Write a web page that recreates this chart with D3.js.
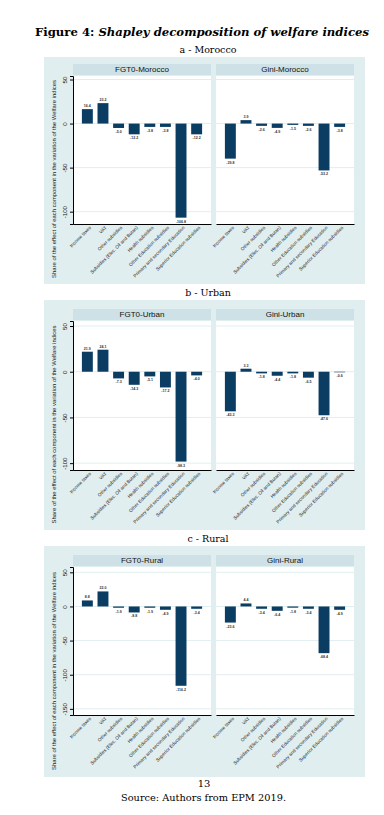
<!DOCTYPE html>
<html>
<head>
<meta charset="utf-8">
<script src="https://cdn.jsdelivr.net/npm/d3@7"></script>
<style>
  body { margin: 0; background: #fff; }
  svg { display: block; }
</style>
</head>
<body>
<svg id="page"></svg>
<script>
// data
var categories = ["Income taxes", "VAT", "Other subsidies", "Subsidies (Elec. Oil and Butan)",
    "Health subsidies", "Other Education subsidies", "Primary and secondary Education",
    "Superior Education subsidies"];

var fgt0Morocco = [16.4, 23.2, -5.0, -12.2, -3.8, -3.8, -106.8, -12.2];
var giniMorocco = [-39.8, 3.9, -2.6, -4.9, -1.5, -2.6, -53.2, -3.8];
var fgt0Urban = [21.9, 24.1, -7.3, -14.3, -5.1, -17.2, -98.3, -4.0];
var giniUrban = [-43.3, 3.3, -1.8, -4.4, -1.8, -6.5, -47.6, -0.6];
var fgt0Rural = [8.8, 22.0, -1.9, -8.8, -1.9, -4.9, -116.2, -3.4];
var giniRural = [-23.6, 4.4, -3.4, -6.4, -1.8, -3.4, -68.4, -4.9];

var yTicksA = [50, 0, -50, -100];
var yTicksB = [50, 0, -50, -100];
var yTicksC = [50, 0, -50, -100, -150];

var W = 384, H = 815;
var svg = d3.select("#page").attr("width", W).attr("height", H);

var serif = "'DejaVu Serif', 'Liberation Serif', serif";
var sans = "'Liberation Sans', Arial, sans-serif";

// figure title
var title = svg.append("text")
    .attr("x", 35).attr("y", 36)
    .attr("textLength", 334).attr("lengthAdjust", "spacingAndGlyphs")
    .style("font-family", serif).style("font-size", "11px");
title.append("tspan").style("font-weight", "bold").text("Figure 4:  ");
title.append("tspan").style("font-style", "italic").style("font-weight", "bold")
    .text("Shapley decomposition of welfare indices");

var panels = [
    {label: "a - Morocco", labelY: 53, bgTop: 57, bgBottom: 284, headTop: 64, plotTop: 76, axisY: 224,
        domain: [-114, 54], ticks: yTicksA,
        left: {name: "FGT0-Morocco", values: fgt0Morocco},
        right: {name: "Gini-Morocco", values: giniMorocco}},
    {label: "b - Urban", labelY: 296, bgTop: 300, bgBottom: 530, headTop: 309, plotTop: 321, axisY: 470,
        domain: [-107.5, 55.5], ticks: yTicksB,
        left: {name: "FGT0-Urban", values: fgt0Urban},
        right: {name: "Gini-Urban", values: giniUrban}},
    {label: "c - Rural", labelY: 542, bgTop: 546, bgBottom: 777, headTop: 555, plotTop: 567, axisY: 715,
        domain: [-159, 57.8], ticks: yTicksC,
        left: {name: "FGT0-Rural", values: fgt0Rural},
        right: {name: "Gini-Rural", values: giniRural}}
];

var bgColor = "#e1eef0", headColor = "#cde1e6", barColor = "#0b3d63";

function hyph(v) { return String(v).replace("\u2212", "-"); }

panels.forEach(function(p) {
    svg.append("text")
        .attr("x", 208).attr("y", p.labelY)
        .attr("text-anchor", "middle")
        .style("font-family", serif).style("font-size", "9.5px")
        .text(p.label);

    svg.append("rect")
        .attr("x", 44).attr("y", p.bgTop)
        .attr("width", 321).attr("height", p.bgBottom - p.bgTop)
        .attr("fill", bgColor);

    var y = d3.scaleLinear().domain(p.domain).range([p.axisY, p.plotTop]);

    // y axis title
    svg.append("text")
        .attr("transform", "translate(56," + ((p.plotTop + p.bgBottom) / 2 - 1) + ") rotate(-90)")
        .attr("text-anchor", "middle")
        .style("font-family", sans).style("font-size", "5.9px")
        .attr("fill", "#1a1a1a")
        .text("Share of the effect of each component in the variation of the Welfare indices");

    [{x0: 73, x1: 211, sub: p.left, axis: true}, {x0: 216, x1: 354, sub: p.right, axis: false}]
        .forEach(function(s) {
            var x = d3.scaleBand()
                .domain(categories)
                .range([s.x0, s.x1])
                .paddingInner(0.3)
                .paddingOuter(0.57);

            // header strip
            svg.append("rect")
                .attr("x", s.x0).attr("y", p.headTop)
                .attr("width", s.x1 - s.x0).attr("height", p.plotTop - p.headTop - 1)
                .attr("fill", headColor);
            svg.append("text")
                .attr("x", (s.x0 + s.x1) / 2).attr("y", p.headTop + 8.4)
                .attr("text-anchor", "middle")
                .style("font-family", sans).style("font-size", "8px")
                .attr("fill", "#111")
                .text(s.sub.name);

            // plot area
            svg.append("rect")
                .attr("x", s.x0).attr("y", p.plotTop)
                .attr("width", s.x1 - s.x0).attr("height", p.axisY - p.plotTop)
                .attr("fill", "#fff");

            // grid
            svg.append("g").selectAll("line")
                .data(p.ticks)
                .enter().append("line")
                .attr("x1", s.x0).attr("x2", s.x1)
                .attr("y1", function(d) { return y(d); })
                .attr("y2", function(d) { return y(d); })
                .attr("stroke", bgColor).attr("stroke-width", 1);

            // bars
            var g = svg.append("g");
            g.selectAll("rect")
                .data(s.sub.values)
                .enter().append("rect")
                .attr("x", function(d, i) { return x(categories[i]); })
                .attr("width", x.bandwidth())
                .attr("y", function(d) { return y(Math.max(0, d)); })
                .attr("height", function(d) { return Math.abs(y(d) - y(0)); })
                .attr("fill", barColor);

            // value labels
            g.selectAll("text")
                .data(s.sub.values)
                .enter().append("text")
                .attr("x", function(d, i) { return x(categories[i]) + x.bandwidth() / 2; })
                .attr("y", function(d) { return d >= 0 ? y(d) - 2 : y(d) + 5; })
                .attr("text-anchor", "middle")
                .style("font-family", sans).style("font-size", "3.6px")
                .style("font-weight", "bold")
                .attr("fill", "#333")
                .text(function(d) { return d.toFixed(1); });

            // x axis
            var xa = svg.append("g")
                .attr("transform", "translate(0," + p.axisY + ")")
                .call(d3.axisBottom(x).tickSize(0).tickPadding(0));
            xa.select(".domain").attr("stroke", "#000").attr("stroke-width", 1.2);
            xa.selectAll("text")
                .attr("text-anchor", "end")
                .attr("dy", 0)
                .attr("transform", "translate(4,4) rotate(-45)")
                .style("font-family", sans).style("font-size", "4.7px")
                .attr("fill", "#222");

            // y axis
            if (s.axis) {
                var ya = svg.append("g")
                    .attr("transform", "translate(" + s.x0 + ",0)")
                    .call(d3.axisLeft(y).tickValues(p.ticks).tickSize(3).tickPadding(4).tickFormat(hyph));
                ya.select(".domain").attr("stroke", "#000").attr("stroke-width", 1);
                ya.selectAll("text")
                    .attr("text-anchor", "middle")
                    .attr("transform", "translate(-6,0) rotate(-90)")
                    .attr("x", 0).attr("dy", 0).attr("y", 0)
                    .style("font-family", sans).style("font-size", "6.2px")
                    .attr("fill", "#111");
            }
        });
});

// footer
svg.append("text")
    .attr("x", 204).attr("y", 787)
    .attr("text-anchor", "middle")
    .style("font-family", serif).style("font-size", "10px")
    .text("13");
svg.append("text")
    .attr("x", 121).attr("y", 801)
    .attr("textLength", 165).attr("lengthAdjust", "spacingAndGlyphs")
    .style("font-family", serif).style("font-size", "9.5px")
    .text("Source:  Authors from EPM 2019.");
</script>
</body>
</html>
